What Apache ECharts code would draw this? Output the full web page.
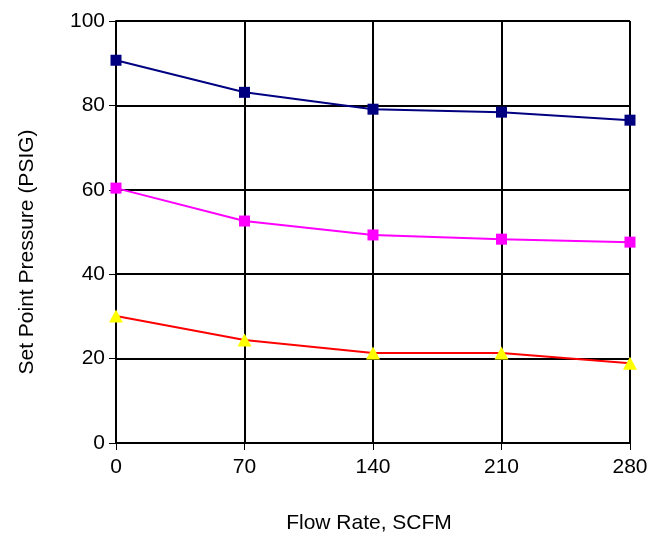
<!DOCTYPE html>
<html>
<head>
<meta charset="utf-8">
<script src="https://cdn.jsdelivr.net/npm/echarts@6/dist/echarts.min.js"></script>
<style>html,body{margin:0;padding:0;background:#fff}#c{width:667px;height:539px}</style>
</head>
<body>
<div id="c"></div>
<script>
const flowRates = [0, 70, 140, 210, 280];
const series90 = [90.7, 83.1, 79.1, 78.4, 76.5];
const series60 = [60.4, 52.6, 49.3, 48.3, 47.6];
const series30 = [30.1, 24.4, 21.3, 21.3, 18.9];
const xTicks = [0, 70, 140, 210, 280];
const yTicks = [0, 20, 40, 60, 80, 100];

const font = 'Liberation Sans, Arial, sans-serif';
function pts(vals){ return flowRates.map((x,i)=>[x, vals[i]]); }
const chart = echarts.init(document.getElementById('c'), null, {renderer:'canvas'});
chart.setOption({
  animation:false,
  backgroundColor:'#fff',
  grid:{left:116, right:37, top:21, bottom:96, containLabel:false},
  xAxis:{
    type:'value', min:xTicks[0], max:xTicks[xTicks.length-1], interval:70,
    name:'Flow Rate, SCFM', nameLocation:'middle', nameGap:70,
    nameTextStyle:{fontFamily:font, fontSize:21, color:'#000', padding:[0,8,0,0]},
    axisLine:{show:true, lineStyle:{color:'#000', width:2}},
    axisTick:{show:true, length:7, lineStyle:{color:'#000', width:1}},
    axisLabel:{fontFamily:font, fontSize:21, color:'#000', margin:14},
    splitLine:{show:true, lineStyle:{color:'#000', width:2}}
  },
  yAxis:{
    type:'value', min:yTicks[0], max:yTicks[yTicks.length-1], interval:20,
    name:'Set Point Pressure (PSIG)', nameLocation:'middle', nameGap:78,
    nameTextStyle:{fontFamily:font, fontSize:21, color:'#000', padding:[0,40,0,0]},
    axisLine:{show:true, lineStyle:{color:'#000', width:2}},
    axisTick:{show:true, length:7, lineStyle:{color:'#000', width:1}},
    axisLabel:{fontFamily:font, fontSize:21, color:'#000', margin:11},
    splitLine:{show:true, lineStyle:{color:'#000', width:2}}
  },
  series:[
    {type:'line', data:pts(series90), symbol:'rect', symbolSize:11,
     lineStyle:{color:'#000080', width:2}, itemStyle:{color:'#000080'}},
    {type:'line', data:pts(series60), symbol:'rect', symbolSize:11,
     lineStyle:{color:'#ff00ff', width:2}, itemStyle:{color:'#ff00ff'}},
    {type:'line', data:pts(series30), symbol:'triangle', symbolSize:[14,13],
     lineStyle:{color:'#ff0000', width:2}, itemStyle:{color:'#ffff00'}}
  ]
});
</script>
</body>
</html>
